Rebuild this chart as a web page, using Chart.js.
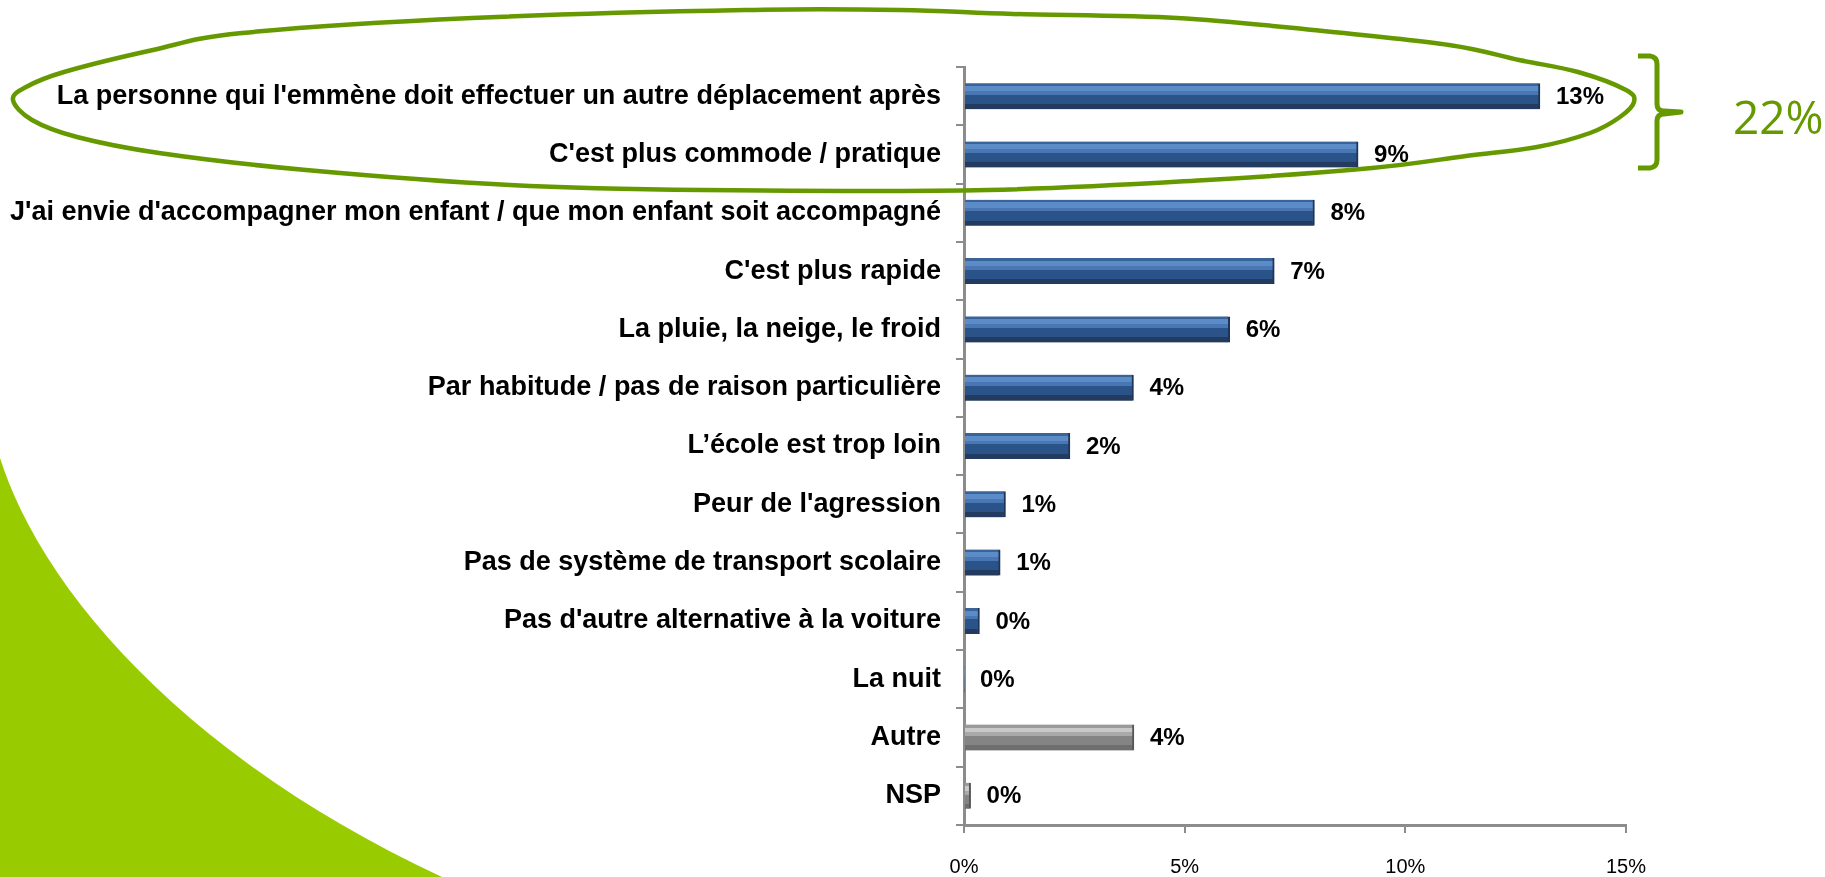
<!DOCTYPE html>
<html>
<head>
<meta charset="utf-8">
<script src="https://cdn.jsdelivr.net/npm/chart.js@4/dist/chart.umd.min.js"></script>
<style>
  html, body { margin: 0; padding: 0; background: #ffffff; overflow: hidden; }
  #wrap { position: relative; width: 1825px; height: 877px; }
  #bg, #fg { position: absolute; left: 0; top: 0; pointer-events: none; }
  #bg { z-index: 0; }
  #c { position: absolute; left: 0; top: 0; z-index: 1; }
  #fg { z-index: 2; }
  #total { position: absolute; left: 1733px; top: 85px; z-index: 3; font-family: 'Open Sans', 'Noto Sans', sans-serif; font-size: 46px; line-height: 62px; color: #669900; white-space: nowrap; }
</style>
</head>
<body>
<div id="wrap">
  <svg id="bg" width="1825" height="877" viewBox="0 0 1825 877">
    <path d="M0,458 C45,600 200,765 442,877 L0,877 Z" fill="#99cc00"/>
  </svg>
  <canvas id="c" width="1825" height="877"></canvas>
  <svg id="fg" width="1825" height="877" viewBox="0 0 1825 877">
    <path id="oval" d="" fill="none" stroke="#669900" stroke-width="4.5" stroke-linejoin="round" stroke-linecap="round"/>
    <path d="M1638,56 L1650,56 Q1657,57 1657,64 L1657,104 Q1657,111 1664,111 L1681,112 L1664,114 Q1657,114 1657,121 L1657,160 Q1657,167 1650,168 L1638,168"
          fill="none" stroke="#669900" stroke-width="5" stroke-linejoin="round"/>
  </svg>
  <div id="total"></div>
</div>
<script>
// ---- data ----
const categories = [
  "La personne qui l'emmène doit effectuer un autre déplacement après",
  "C'est plus commode / pratique",
  "J'ai envie d'accompagner mon enfant / que mon enfant soit accompagné",
  "C'est plus rapide",
  "La pluie, la neige, le froid",
  "Par habitude / pas de raison particulière",
  "L’école est trop loin",
  "Peur de l'agression",
  "Pas de système de transport scolaire",
  "Pas d'autre alternative à la voiture",
  "La nuit",
  "Autre",
  "NSP"
];
const values = [13.05, 8.93, 7.94, 7.03, 6.02, 3.84, 2.40, 0.94, 0.82, 0.35, 0, 3.85, 0.15];
const barGroups = ["blue","blue","blue","blue","blue","blue","blue","blue","blue","blue","blue","gray","gray"];
const xTickValues = [0, 5, 10, 15];
const groupTotalLabel = "22%";

document.getElementById('total').textContent = groupTotalLabel;

// ---- styles ----
const BAR_T = 26;
const STOPS = {
  blue: [[0,'#3a6399'],[0.1,'#3a6399'],[0.1,'#5b8cc8'],[0.3,'#5b8cc8'],[0.3,'#4a77b3'],[0.44,'#4a77b3'],[0.44,'#2a5489'],[0.8,'#2a5489'],[0.8,'#233b5e'],[1,'#233b5e']],
  gray: [[0,'#9a9a9a'],[0.12,'#9a9a9a'],[0.12,'#c9c9c9'],[0.3,'#c9c9c9'],[0.3,'#a9a9a9'],[0.45,'#a9a9a9'],[0.45,'#848484'],[0.8,'#848484'],[0.8,'#6e6e6e'],[1,'#6e6e6e']]
};
function barFill(ctx) {
  const kind = barGroups[ctx.dataIndex] || 'blue';
  const flat = kind === 'blue' ? '#2a5489' : '#888888';
  const chart = ctx.chart;
  const ys = chart.scales && chart.scales.y;
  if (!ys || ctx.type !== 'data') return flat;
  const c = ys.getPixelForValue(ctx.dataIndex);
  if (!isFinite(c)) return flat;
  const g = chart.ctx.createLinearGradient(0, c - BAR_T / 2, 0, c + BAR_T / 2);
  STOPS[kind].forEach(s => g.addColorStop(s[0], s[1]));
  return g;
}

const valueLabelPlugin = {
  id: 'valueLabels',
  afterDatasetsDraw(chart) {
    const meta = chart.getDatasetMeta(0);
    const ctx = chart.ctx;
    ctx.save();
    ctx.font = 'bold 24px "Liberation Sans", Arial, sans-serif';
    ctx.fillStyle = '#000000';
    ctx.textAlign = 'left';
    ctx.textBaseline = 'middle';
    meta.data.forEach((el, i) => {
      ctx.fillText(Math.round(values[i]) + '%', el.x + 16, el.y + 1);
    });
    ctx.restore();
  }
};

// ---- decorative hand-drawn oval around the first two categories ----
const ovalPts = [[13,100],[26,87],[64,72],[153,50],[242,33],[472,18],[745,10],[900,10],[1013,14],[1177,18],[1313,30],[1449,45],[1519,60],[1578,72],[1626,90],[1634,102],[1620,117],[1590,133],[1537,147],[1466,156],[1372,168],[1207,180],[988,190],[702,190],[510,185],[306,170],[159,153],[77,137],[32,120]];
(function () {
  const n = ovalPts.length;
  let d = 'M' + ovalPts[0][0] + ',' + ovalPts[0][1];
  for (let i = 0; i < n; i++) {
    const p0 = ovalPts[(i - 1 + n) % n], p1 = ovalPts[i], p2 = ovalPts[(i + 1) % n], p3 = ovalPts[(i + 2) % n];
    const c1x = p1[0] + (p2[0] - p0[0]) / 6, c1y = p1[1] + (p2[1] - p0[1]) / 6;
    const c2x = p2[0] - (p3[0] - p1[0]) / 6, c2y = p2[1] - (p3[1] - p1[1]) / 6;
    d += ' C' + c1x.toFixed(1) + ',' + c1y.toFixed(1) + ' ' + c2x.toFixed(1) + ',' + c2y.toFixed(1) + ' ' + p2[0] + ',' + p2[1];
  }
  document.getElementById('oval').setAttribute('d', d + ' Z');
})();

new Chart(document.getElementById('c'), {
  type: 'bar',
  data: {
    labels: categories,
    datasets: [{
      data: values,
      backgroundColor: barFill,
      borderColor: ctx => barGroups[ctx.dataIndex] === 'gray' ? '#555555' : '#1d3557',
      borderWidth: { top: 0, bottom: 0, left: 0, right: 2 },
      borderSkipped: false,
      barThickness: BAR_T
    }]
  },
  options: {
    indexAxis: 'y',
    responsive: false,
    maintainAspectRatio: false,
    devicePixelRatio: 1,
    animation: false,
    layout: { padding: { top: 67, right: 199, left: 0, bottom: 0 } },
    plugins: { legend: { display: false }, tooltip: { enabled: false } },
    scales: {
      x: {
        type: 'linear',
        min: xTickValues[0],
        max: xTickValues[xTickValues.length - 1],
        afterBuildTicks: s => { s.ticks = xTickValues.map(v => ({ value: v })); },
        ticks: {
          callback: v => v + '%',
          color: '#000000',
          font: { family: '"Liberation Sans", Arial, sans-serif', size: 20 },
          padding: 22,
          maxRotation: 0
        },
        grid: { drawOnChartArea: false, drawTicks: true, tickLength: 8, color: '#8c8c8c', lineWidth: 2 },
        border: { display: true, color: '#8c8c8c', width: 3 },
        afterFit: s => { s.height = 52; }
      },
      y: {
        type: 'category',
        offset: true,
        ticks: {
          color: '#000000',
          font: { family: '"Liberation Sans", Arial, sans-serif', size: 27, weight: 'bold' },
          padding: 15,
          autoSkip: false
        },
        grid: { drawOnChartArea: false, drawTicks: true, tickLength: 8, color: '#8c8c8c', lineWidth: 2, offset: true },
        border: { display: true, color: '#8c8c8c', width: 3 },
        afterFit: s => { s.width = 964; }
      }
    }
  },
  plugins: [valueLabelPlugin]
});
</script>
</body>
</html>
